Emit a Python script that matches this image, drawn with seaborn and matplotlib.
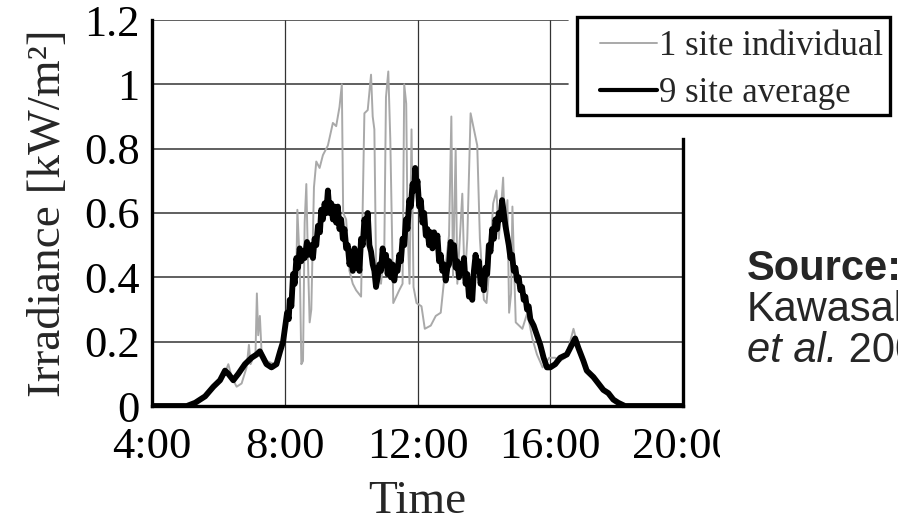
import matplotlib
matplotlib.use("Agg")
import matplotlib.pyplot as plt
import pandas as pd
import seaborn as sns
from matplotlib.lines import Line2D
from matplotlib.patches import Rectangle
from matplotlib.transforms import Bbox, TransformedBbox

# --- data (time in hours, irradiance in kW/m2) ---
T_SINGLE = [4.0, 5.05, 5.4, 5.7, 5.95, 6.15, 6.3, 6.4, 6.55, 6.7, 6.85, 6.92, 6.97,
            7.05, 7.12, 7.16, 7.2, 7.25, 7.3, 7.45, 7.7, 7.9, 8.05, 8.2, 8.35, 8.38,
            8.45, 8.5, 8.55, 8.6, 8.65, 8.7, 8.75, 8.8, 8.88, 8.95, 9.05, 9.15, 9.3,
            9.45, 9.55, 9.65, 9.72, 9.76, 9.85, 9.95, 10.05, 10.15, 10.3, 10.4, 10.5,
            10.6, 10.65, 10.7, 10.75, 10.9, 11.0, 11.05, 11.12, 11.18, 11.27, 11.45,
            11.55, 11.6, 11.66, 11.7, 11.76, 11.82, 11.88, 11.97, 12.12, 12.22, 12.4,
            12.55, 12.7, 12.85, 12.95, 13.02, 13.07, 13.15, 13.2, 13.35, 13.42, 13.5,
            13.6, 13.7, 13.8, 13.88, 14.0, 14.08, 14.18, 14.28, 14.38, 14.45, 14.52,
            14.58, 14.63, 14.71, 14.76, 14.82, 14.86, 14.92, 14.96, 15.16, 15.31,
            15.46, 15.6, 15.77, 15.97, 16.15, 16.3, 16.45, 16.6, 16.7, 16.8, 16.95,
            17.1, 17.45, 17.75, 18.05, 18.25, 20.0]
V_SINGLE = [0.0, 0.0, 0.02, 0.04, 0.07, 0.09, 0.13, 0.09, 0.06, 0.07, 0.12, 0.19, 0.13,
            0.15, 0.17, 0.35, 0.22, 0.28, 0.17, 0.14, 0.13, 0.18, 0.27, 0.36, 0.42, 0.61,
            0.45, 0.13, 0.14, 0.57, 0.69, 0.45, 0.26, 0.3, 0.68, 0.76, 0.74, 0.78, 0.81,
            0.88, 0.87, 0.93, 1.0, 0.6, 0.58, 0.42, 0.38, 0.36, 0.34, 0.91, 0.92,
            1.03, 0.9, 0.86, 0.44, 0.38, 0.49, 0.96, 1.04, 0.83, 0.32, 0.36,
            0.38, 1.0, 0.94, 0.56, 0.38, 0.86, 0.37, 0.32, 0.31, 0.24, 0.25,
            0.28, 0.29, 0.44, 0.53, 0.9, 0.4, 0.8, 0.38, 0.66, 0.38, 0.52,
            0.91, 0.86, 0.81, 0.52, 0.33, 0.32, 0.45, 0.63, 0.67, 0.52, 0.62,
            0.71, 0.55, 0.64, 0.29, 0.35, 0.62, 0.4, 0.26, 0.24, 0.29,
            0.21, 0.16, 0.12, 0.15, 0.15, 0.14, 0.15, 0.2, 0.24, 0.2, 0.16,
            0.11, 0.07, 0.04, 0.01, 0.0, 0.0]

T_AVG = [4.0, 5.05, 5.3, 5.6, 5.85, 6.05, 6.2, 6.3, 6.45, 6.6, 6.8, 7.0, 7.15, 7.25,
         7.35, 7.45, 7.6, 7.75, 7.86, 7.95, 8.07, 8.12, 8.15, 8.2, 8.25, 8.3, 8.35,
         8.4, 8.45, 8.5, 8.55, 8.6, 8.67, 8.72, 8.78, 8.85, 8.9, 8.95, 9.0, 9.06,
         9.1, 9.15, 9.2, 9.25, 9.3, 9.35, 9.4, 9.45, 9.5, 9.55, 9.6, 9.65, 9.7,
         9.75, 9.8, 9.85, 9.9, 9.95, 10.0, 10.05, 10.1, 10.15, 10.2, 10.25, 10.3,
         10.35, 10.4, 10.45, 10.5, 10.55, 10.6, 10.65, 10.7, 10.75, 10.8, 10.85,
         10.9, 10.95, 11.0, 11.05, 11.1, 11.15, 11.2, 11.25, 11.3, 11.35, 11.4,
         11.45, 11.5, 11.55, 11.6, 11.65, 11.7, 11.75, 11.8, 11.85, 11.9, 11.93,
         11.97, 12.0, 12.05, 12.1, 12.15, 12.2, 12.25, 12.3, 12.35, 12.4, 12.45,
         12.5, 12.55, 12.6, 12.65, 12.7, 12.75, 12.8, 12.85, 12.9, 12.95, 13.0,
         13.05, 13.1, 13.15, 13.2, 13.25, 13.3, 13.35, 13.4, 13.45, 13.5, 13.55,
         13.6, 13.65, 13.7, 13.75, 13.8, 13.85, 13.9, 13.95, 14.0, 14.05, 14.1,
         14.15, 14.2, 14.25, 14.3, 14.35, 14.4, 14.45, 14.5, 14.55, 14.6, 14.65,
         14.7, 14.75, 14.8, 14.85, 14.9, 14.95, 15.0, 15.05, 15.1, 15.15, 15.2,
         15.25, 15.3, 15.35, 15.4, 15.5, 15.6, 15.7, 15.8, 15.9, 16.0, 16.15, 16.3,
         16.5, 16.65, 16.75, 16.85, 17.0, 17.1, 17.3, 17.45, 17.6, 17.75, 17.9,
         18.05, 18.25, 20.0]
V_AVG = [0.0, 0.0, 0.01, 0.03, 0.06, 0.08, 0.11, 0.10, 0.08, 0.10, 0.13, 0.15, 0.16, 0.17,
         0.15, 0.13, 0.12, 0.13, 0.17, 0.2, 0.29, 0.27, 0.33, 0.31, 0.41, 0.38, 0.46,
         0.43, 0.49, 0.45, 0.48, 0.46, 0.51, 0.47, 0.5, 0.46, 0.52, 0.5, 0.56, 0.54,
         0.61, 0.58, 0.63, 0.6, 0.67, 0.6, 0.63, 0.58, 0.62, 0.57, 0.62, 0.55, 0.58,
         0.52, 0.55, 0.49, 0.5, 0.44, 0.47, 0.42, 0.49, 0.43, 0.46, 0.42, 0.52,
         0.5, 0.58, 0.55, 0.6, 0.5, 0.48, 0.44, 0.42, 0.37, 0.4, 0.44,
         0.42, 0.49, 0.44, 0.47, 0.41, 0.45, 0.4, 0.44, 0.39, 0.43, 0.42,
         0.47, 0.45, 0.52, 0.5, 0.58, 0.55, 0.64, 0.62, 0.69, 0.67, 0.74,
         0.68, 0.7, 0.62, 0.64, 0.57, 0.6, 0.53, 0.55, 0.5, 0.54, 0.49,
         0.54, 0.5, 0.53, 0.45, 0.47, 0.42, 0.44, 0.39, 0.43, 0.44, 0.51,
         0.47, 0.5, 0.43, 0.45, 0.4, 0.44, 0.42, 0.46, 0.38, 0.41, 0.34,
         0.36, 0.33, 0.42, 0.47, 0.42, 0.45, 0.38, 0.4, 0.36, 0.43, 0.41,
         0.5, 0.48, 0.55, 0.52, 0.58, 0.55, 0.6, 0.58, 0.64, 0.6, 0.56,
         0.53, 0.5, 0.46, 0.47, 0.42, 0.43, 0.39, 0.4, 0.36, 0.37, 0.33,
         0.34, 0.3, 0.31, 0.27, 0.25, 0.22, 0.19, 0.15, 0.12, 0.12, 0.13, 0.15,
         0.16, 0.19, 0.21, 0.18, 0.14, 0.11, 0.09, 0.07, 0.05, 0.04, 0.02,
         0.01, 0.0, 0.0]

SERIES = ["1 site individual", "9 site average"]
X_TICKS = [4, 8, 12, 16, 20]
X_LABELS = ["4:00", "8:00", "12:00", "16:00", "20:00"]
Y_TICKS = [0, 0.2, 0.4, 0.6, 0.8, 1.0, 1.2]
Y_LABELS = ["0", "0.2", "0.4", "0.6", "0.8", "1", "1.2"]

W, H = 898, 522
GRAY = "#a9a9a9"

sns.set_style("white")
plt.rcParams["font.family"] = ["Liberation Serif", "DejaVu Serif"]

df_single = pd.DataFrame({"time": T_SINGLE, "irr": V_SINGLE})
df_avg = pd.DataFrame({"time": T_AVG, "irr": V_AVG})

fig = plt.figure(figsize=(W / 100, H / 100), dpi=100)
ax = fig.add_axes([152 / W, 1 - 406 / H, 531 / W, 386 / H])

sns.lineplot(data=df_single, x="time", y="irr", ax=ax, color=GRAY, lw=1.4,
             estimator=None, sort=False, zorder=3)
sns.lineplot(data=df_avg, x="time", y="irr", ax=ax, color="black", lw=4.2,
             estimator=None, sort=False, zorder=4)

ax.set_xlim(4, 20)
ax.set_ylim(0, 1.2)

# grid: vertical lines full height, the two top rows stop short of the legend
for x in X_TICKS[1:-1]:
    ax.axvline(x, color="#333333", lw=0.9, zorder=1)
for y in Y_TICKS[1:]:
    xmax = 0.783 if y >= 1.0 else 1.0
    ax.axhline(y, xmax=xmax, color="#444444", lw=1.2, zorder=1)

ax.set_xticks(X_TICKS)
ax.set_xticklabels(X_LABELS)
ax.set_yticks(Y_TICKS)
ax.set_yticklabels(Y_LABELS)
ax.tick_params(axis="both", direction="in", length=8, width=3.5, labelsize=32,
               colors="black")
ax.tick_params(axis="x", pad=15)
ax.tick_params(axis="y", pad=9)

for side in ["left", "bottom", "right"]:
    ax.spines[side].set_linewidth(2.4)
    ax.spines[side].set_color("black")
ax.spines["top"].set_visible(False)
ax.spines["right"].set_bounds(0, 0.83)

ax.set_xlabel("Time", fontsize=34, labelpad=10)
ax.set_ylabel("Irradiance [kW/m²]", fontsize=34, labelpad=10)

# last tick label is cut off in the reference
lab = ax.xaxis.get_major_ticks()[-1].label1
lab.set_clip_on(True)
lab.set_clip_box(TransformedBbox(Bbox([[0, 0], [720 / W, 1]]), fig.transFigure))

# legend with a square black frame
frame = Rectangle((577 / W, 1 - 115 / H), 313 / W, 98 / H, transform=fig.transFigure,
                  facecolor="white", edgecolor="black", lw=2.4, zorder=5)
fig.add_artist(frame)
handles = [Line2D([], [], color=GRAY, lw=1.4), Line2D([], [], color="black", lw=3.0)]
leg = fig.legend(handles, SERIES, loc="center left", bbox_to_anchor=(600 / W, 1 - 70 / H),
                 frameon=False, fontsize=25, handlelength=1.65, handletextpad=0.05,
                 borderpad=0, borderaxespad=0, labelspacing=0.4)
leg.set_zorder(6)

# source note on the right, clipped by the figure edge
sans = ["Liberation Sans", "DejaVu Sans"]
fig.text(747 / W, 1 - 269 / H, "Source:", family=sans, fontweight="bold", fontsize=30,
         va="center", ha="left")
fig.text(747 / W, 1 - 310 / H, "Kawasaki", family=sans, fontsize=30, va="center", ha="left")
etal = fig.text(747 / W, 1 - 351 / H, "et al.", family=sans, style="italic", fontsize=30,
                va="center", ha="left")
year = fig.text(0, 0, " 2006", family=sans, fontsize=30, va="bottom", ha="left")
fig.canvas.draw()
bb = etal.get_window_extent()
year.set_position((bb.x1 / W, bb.y0 / H))

fig.savefig("out.png", dpi=100)
